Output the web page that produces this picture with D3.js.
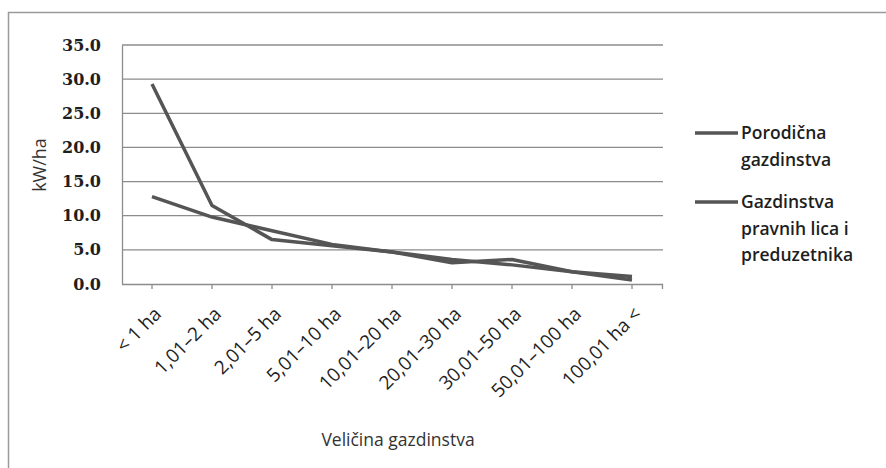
<!DOCTYPE html>
<html>
<head>
<meta charset="utf-8">
<script src="https://cdn.jsdelivr.net/npm/d3@7"></script>
<style>
  html, body { margin: 0; padding: 0; background: #fff; }
  svg { display: block; }
</style>
</head>
<body>
<svg id="chart" width="886" height="468"></svg>
<script>
const categories = ["< 1 ha", "1,01–2 ha", "2,01–5 ha", "5,01–10 ha", "10,01–20 ha", "20,01–30 ha", "30,01–50 ha", "50,01–100 ha", "100,01 ha <"];
const seriesNames = [["Porodična", "gazdinstva"], ["Gazdinstva", "pravnih lica i", "preduzetnika"]];
const porodicna = [29.3, 11.5, 6.5, 5.6, 4.7, 3.1, 3.6, 1.8, 0.6];
const pravnaLica = [12.8, 9.8, 7.8, 5.8, 4.7, 3.6, 2.8, 1.8, 1.1];
const yTicks = [0, 5, 10, 15, 20, 25, 30, 35];

const svg = d3.select("#chart");
const pLeft = 122, pRight = 662, pTop = 45, pBottom = 284;
const lineColor = "#555555";
const gridColor = "#8c8c8c";

// outer frame (left and top edges visible)
svg.append("path")
  .attr("d", "M8.5,468 L8.5,12.5 L886,12.5")
  .attr("fill", "none").attr("stroke", "#9a9a9a").attr("stroke-width", 1.5);

const x = d3.scaleBand().domain(categories).range([pLeft, pRight]);
const xc = d => x(d) + x.bandwidth() / 2;
const y = d3.scaleLinear().domain([0, 35]).range([pBottom, pTop]);

// gridlines
svg.append("g").selectAll("line").data(yTicks.filter(d => d > 0)).join("line")
  .attr("x1", pLeft).attr("x2", pRight + 1)
  .attr("y1", d => y(d)).attr("y2", d => y(d))
  .attr("stroke", gridColor).attr("stroke-width", 1.3);

// y axis
const yAxis = svg.append("g").attr("transform", `translate(${pLeft},0)`)
  .call(d3.axisLeft(y).tickValues(yTicks).tickSize(0).tickPadding(21).tickFormat(d3.format(".1f")));
yAxis.select(".domain").attr("stroke", gridColor).attr("stroke-width", 1.3);
yAxis.selectAll("text")
  .attr("font-family", "'DejaVu Serif', serif")
  .attr("font-size", 16).attr("font-weight", "bold").attr("fill", "#1e1e1e");

// x axis
const xAxis = svg.append("g").attr("transform", `translate(0,${pBottom})`)
  .call(d3.axisBottom(x).tickSize(5).tickSizeOuter(0).tickPadding(4));
xAxis.select(".domain").attr("stroke", gridColor).attr("stroke-width", 1.3)
  .attr("d", `M${pLeft},0.5H${pRight + 1}`);
xAxis.selectAll(".tick line").attr("stroke", gridColor).attr("stroke-width", 1.3);
xAxis.append("line").attr("x1", pRight + 0.5).attr("x2", pRight + 0.5).attr("y1", 0).attr("y2", 5)
  .attr("stroke", gridColor).attr("stroke-width", 1.3);
xAxis.selectAll(".tick text")
  .attr("font-family", "'Open Sans', sans-serif")
  .attr("font-size", 19).attr("fill", "#1e1e1e")
  .attr("text-anchor", "end")
  .attr("dy", 0)
  .attr("transform", "translate(4,25) rotate(-45)");

// lines
const line = d3.line().x((d, i) => xc(categories[i])).y(d => y(d));
[porodicna, pravnaLica].forEach(s => {
  svg.append("path").datum(s)
    .attr("d", line).attr("fill", "none")
    .attr("stroke", lineColor).attr("stroke-width", 3.5)
    .attr("stroke-linejoin", "round");
});

// axis titles
svg.append("text")
  .attr("transform", `translate(46,165) rotate(-90)`)
  .attr("text-anchor", "middle")
  .attr("font-family", "'Open Sans', sans-serif").attr("font-size", 18).attr("fill", "#333")
  .text("kW/ha");
svg.append("text")
  .attr("x", 398).attr("y", 446)
  .attr("text-anchor", "middle")
  .attr("font-family", "'Open Sans', sans-serif").attr("font-size", 17.5).attr("fill", "#333")
  .text("Veličina gazdinstva");

// legend
const legendY = [133, 202];
const leg = svg.append("g");
seriesNames.forEach((names, i) => {
  leg.append("line").attr("x1", 695).attr("x2", 738)
    .attr("y1", legendY[i]).attr("y2", legendY[i])
    .attr("stroke", lineColor).attr("stroke-width", 3.5);
  const t = leg.append("text").attr("x", 741).attr("y", legendY[i] + 6)
    .attr("font-family", "'Open Sans', sans-serif").attr("font-size", 17.5)
    .attr("font-weight", 600).attr("fill", "#1e1e1e");
  names.forEach((n, j) => {
    t.append("tspan").attr("x", 741).attr("dy", j === 0 ? 0 : 26.5).text(n);
  });
});
</script>
</body>
</html>
